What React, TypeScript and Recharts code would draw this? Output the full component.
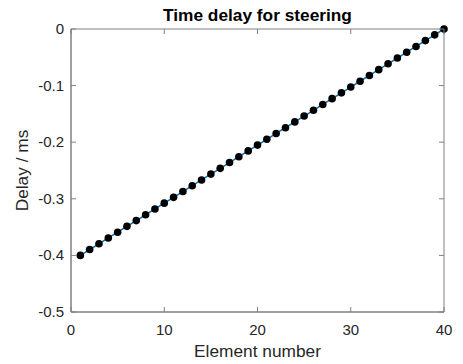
import React from 'react';
import { LineChart, Line, XAxis, YAxis, ReferenceArea } from 'recharts';

// element index along the array
const elements = [
    1, 2, 3, 4, 5, 6, 7, 8, 9, 10,
    11, 12, 13, 14, 15, 16, 17, 18, 19, 20,
    21, 22, 23, 24, 25, 26, 27, 28, 29, 30,
    31, 32, 33, 34, 35, 36, 37, 38, 39, 40,
];

// delay in ms
const delays = [
    -0.4000, -0.3897, -0.3795, -0.3692, -0.3590, -0.3487, -0.3385, -0.3282, -0.3179, -0.3077,
    -0.2974, -0.2872, -0.2769, -0.2667, -0.2564, -0.2462, -0.2359, -0.2256, -0.2154, -0.2051,
    -0.1949, -0.1846, -0.1744, -0.1641, -0.1538, -0.1436, -0.1333, -0.1231, -0.1128, -0.1026,
    -0.0923, -0.0821, -0.0718, -0.0615, -0.0513, -0.0410, -0.0308, -0.0205, -0.0103, 0,
];

const xTicks = [0, 10, 20, 30, 40];
const yTicks = [-0.5, -0.4, -0.3, -0.2, -0.1, 0];

const data = elements.map((e, i) => ({ element: e, delay: delays[i] }));

const W = 463;
const H = 364;
const PLOT_LEFT = 71;
const PLOT_RIGHT = 444;
const PLOT_TOP = 29;
const PLOT_BOTTOM = 312;
const TICK_LEN = 5;
const AXIS_COLOR = '#808080';
const TEXT_COLOR = '#262626';
const FONT = 'Arial, "Liberation Sans", Helvetica, sans-serif';

const XTick = (props: any) => {
    const { x, payload } = props;
    return (
        <g>
            <line x1={x} x2={x} y1={PLOT_BOTTOM} y2={PLOT_BOTTOM - TICK_LEN} stroke={AXIS_COLOR} />
            <line x1={x} x2={x} y1={PLOT_TOP} y2={PLOT_TOP + TICK_LEN} stroke={AXIS_COLOR} />
            <text x={x} y={PLOT_BOTTOM + 23} textAnchor="middle" fontSize={15} fill={TEXT_COLOR} fontFamily={FONT}>
                {payload.value}
            </text>
        </g>
    );
};

const YTick = (props: any) => {
    const { y, payload } = props;
    return (
        <g>
            <line x1={PLOT_LEFT} x2={PLOT_LEFT + TICK_LEN} y1={y} y2={y} stroke={AXIS_COLOR} />
            <line x1={PLOT_RIGHT} x2={PLOT_RIGHT - TICK_LEN} y1={y} y2={y} stroke={AXIS_COLOR} />
            <text x={PLOT_LEFT - 7} y={y + 5} textAnchor="end" fontSize={15} fill={TEXT_COLOR} fontFamily={FONT}>
                {payload.value}
            </text>
        </g>
    );
};

export default function App() {
    return (
        <div style={{ position: 'absolute', left: 0, top: 0, width: W, height: H, background: '#fff' }}>
            <LineChart
                width={W}
                height={H}
                data={data}
                margin={{ top: PLOT_TOP, right: W - PLOT_RIGHT, bottom: 0, left: 0 }}
            >
                <ReferenceArea x1={0} x2={40} y1={-0.5} y2={0} fill="none" stroke={AXIS_COLOR} strokeWidth={1} />
                <XAxis
                    type="number"
                    dataKey="element"
                    domain={[0, 40]}
                    ticks={xTicks}
                    height={H - PLOT_BOTTOM}
                    tickSize={0}
                    tickMargin={0}
                    tickLine={false}
                    axisLine={{ stroke: AXIS_COLOR }}
                    tick={<XTick />}
                    interval={0}
                />
                <YAxis
                    type="number"
                    domain={[-0.5, 0]}
                    ticks={yTicks}
                    width={PLOT_LEFT}
                    tickSize={0}
                    tickMargin={0}
                    tickLine={false}
                    axisLine={{ stroke: AXIS_COLOR }}
                    tick={<YTick />}
                    interval={0}
                />
                <Line
                    type="linear"
                    dataKey="delay"
                    stroke="#0072BD"
                    strokeWidth={1.5}
                    dot={{ r: 3.8, fill: '#000', stroke: '#000', strokeWidth: 0 }}
                    activeDot={false}
                    isAnimationActive={false}
                />
            </LineChart>
            <svg width={W} height={H} style={{ position: 'absolute', left: 0, top: 0, pointerEvents: 'none' }}>
                <text x={(PLOT_LEFT + PLOT_RIGHT) / 2} y={21} textAnchor="middle" fontSize={17.3} fontWeight="bold" fill="#000" fontFamily={FONT}>
                    Time delay for steering
                </text>
                <text x={(PLOT_LEFT + PLOT_RIGHT) / 2} y={357} textAnchor="middle" fontSize={17.3} fill={TEXT_COLOR} fontFamily={FONT}>
                    Element number
                </text>
                <text
                    x={28}
                    y={(PLOT_TOP + PLOT_BOTTOM) / 2}
                    textAnchor="middle"
                    fontSize={17.3}
                    fill={TEXT_COLOR}
                    fontFamily={FONT}
                    transform={`rotate(-90, 28, ${(PLOT_TOP + PLOT_BOTTOM) / 2})`}
                >
                    Delay / ms
                </text>
            </svg>
        </div>
    );
}
